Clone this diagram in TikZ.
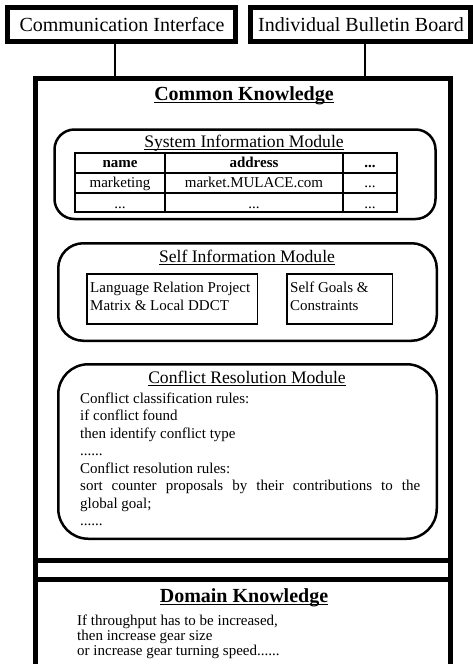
\documentclass[tikz,border=0pt]{standalone}
\usepackage{fontspec}
\setmainfont{Liberation Serif}
\newsavebox\ulbox
\newcommand\ulin[3]{\sbox\ulbox{#3}\rlap{\rule[#1]{\wd\ulbox}{#2}}\usebox\ulbox}
\begin{document}
\begin{tikzpicture}[x=1pt,y=-1pt,
  heavy/.style={draw,line width=5pt,inner sep=0pt},
  module/.style={draw,line width=2.5pt,inner sep=0pt},
  thinbox/.style={draw,line width=1.5pt,inner sep=0pt,minimum height=50pt},
  cell/.style={draw,line width=2pt,inner sep=0pt,font=\fontsize{15pt}{17pt}\selectfont},
  big/.style={inner sep=0pt,anchor=base,font=\fontsize{20pt}{24pt}\selectfont},
  head/.style={inner sep=0pt,anchor=base,font=\fontsize{20pt}{24pt}\selectfont\bfseries},
  modtitle/.style={inner sep=0pt,anchor=base,font=\fontsize{17.6pt}{20pt}\selectfont},
  body/.style={inner sep=0pt,anchor=base west},
  conn/.style={line width=1.5pt}]
\useasboundingbox (0,0) rectangle (473,664);

% top boxes
\node[heavy,minimum width=228pt,minimum height=34pt] (ci) at (121.5,24.5) {};
\node[big] (citxt) at (122,31) {Communication Interface};
\node[heavy,minimum width=220pt,minimum height=34pt] (ibb) at (360.5,24.5) {};
\node[big] (ibbtxt) at (361,31) {Individual Bulletin Board};

% common knowledge
\node[heavy,minimum width=415pt,minimum height=501pt] (ck) at (243,329) {};
\node[head] (cktitle) at (244,100) {\ulin{-3.4pt}{1.6pt}{Common Knowledge}};

\draw[conn] ([xshift=-6.5pt]ci.south) -- ([xshift=-6.5pt]ci.south |- ck.north);
\draw[conn] ([xshift=4.5pt]ibb.south) -- ([xshift=4.5pt]ibb.south |- ck.north);

% system information module
\node[module,rounded corners=20pt,minimum width=381pt,minimum height=89.5pt] (sim) at (245,174.25) {};
\node[modtitle] (simtitle) at (244,147) {\ulin{-2.8pt}{1.2pt}{System Information Module}};
\node[cell,minimum width=90pt,minimum height=20pt,text height=10pt,text depth=2pt] (t11) at (120,163) {\bfseries name};
\node[cell,minimum width=178pt,minimum height=20pt,text height=10pt,text depth=2pt] (t12) at (254,163) {\bfseries address};
\node[cell,minimum width=54pt,minimum height=20pt,text height=10pt,text depth=2pt] (t13) at (370,163) {\bfseries ...};
\node[cell,minimum width=90pt,minimum height=20pt,text height=10pt,text depth=2pt] (t21) at (120,183) {marketing};
\node[cell,minimum width=178pt,minimum height=20pt,text height=10pt,text depth=2pt] (t22) at (254,183) {market.MULACE.com};
\node[cell,minimum width=54pt,minimum height=20pt,text height=10pt,text depth=2pt] (t23) at (370,183) {...};
\node[cell,minimum width=90pt,minimum height=19pt,text height=11pt,text depth=0pt] (t31) at (120,202.5) {...};
\node[cell,minimum width=178pt,minimum height=19pt,text height=11pt,text depth=0pt] (t32) at (254,202.5) {...};
\node[cell,minimum width=54pt,minimum height=19pt,text height=11pt,text depth=0pt] (t33) at (370,202.5) {...};

% self information module
\node[module,rounded corners=25pt,minimum width=378.5pt,minimum height=97.5pt] (sel) at (247.5,292) {};
\node[modtitle] (seltitle) at (247,262) {\ulin{-2.8pt}{1.2pt}{Self Information Module}};
\node[thinbox,minimum width=170.5pt] (lrp) at (172,299) {};
\node[body] (lrptxt) at (90,292) {\parbox[t]{165pt}{\fontsize{15pt}{18pt}\selectfont Language Relation Project\\Matrix \& Local DDCT}};
\node[thinbox,minimum width=105.5pt] (sgc) at (339.5,299) {};
\node[body] (sgctxt) at (290,292) {\parbox[t]{100pt}{\fontsize{15pt}{18pt}\selectfont Self Goals \&\\Constraints}};

% conflict resolution module
\node[module,rounded corners=30pt,minimum width=378.5pt,minimum height=174.5pt] (crm) at (247.5,451.5) {};
\node[modtitle] (crmtitle) at (247,383) {\ulin{-2.8pt}{1.2pt}{Conflict Resolution Module}};
\node[body] (crmtxt) at (80,403) {\parbox[t]{340pt}{\fontsize{15pt}{17.5pt}\selectfont\parindent=0pt
Conflict classification rules:\\
if conflict found\\
then identify conflict type\\
......\\
Conflict resolution rules:\\
sort counter proposals by their contributions to the\linebreak
global goal;\\
......}};

% domain knowledge
\node[heavy,minimum width=415pt,minimum height=105.5pt] (dk) at (243,613.25) {};
\node[head] (dktitle) at (244,602) {\ulin{-3.4pt}{1.6pt}{Domain Knowledge}};
\node[body] (dktxt) at (77,625) {\parbox[t]{300pt}{\fontsize{15pt}{15pt}\selectfont
If throughput has to be increased,\\
then increase gear size\\
or increase gear turning speed......}};
\end{tikzpicture}
\end{document}
